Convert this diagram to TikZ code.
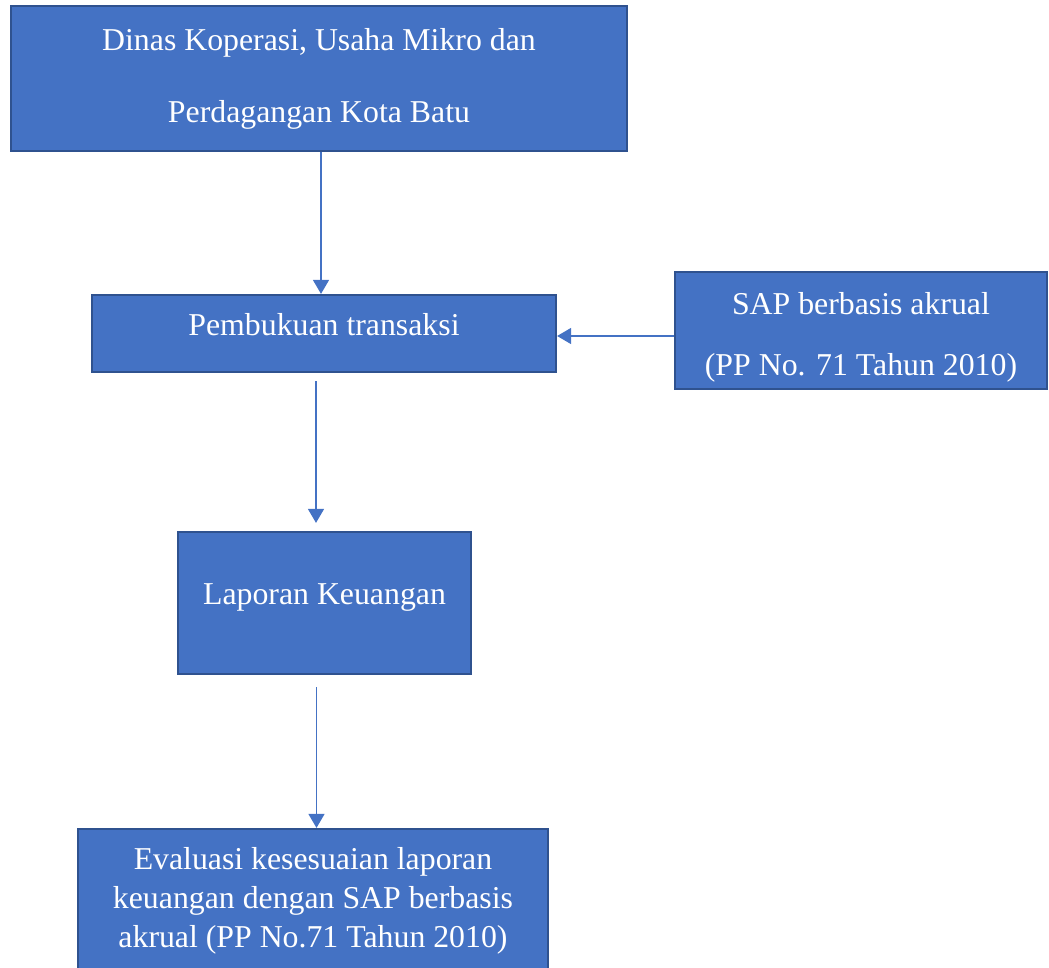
\documentclass[tikz,border=0pt]{standalone}
\usepackage{fontspec}
\setmainfont{Liberation Serif}
\usetikzlibrary{positioning,arrows.meta}
\definecolor{boxfill}{HTML}{4472C4}
\definecolor{boxline}{HTML}{2F528F}
\tikzset{
flowchart/.style={
    x=1pt,
    y=-1pt,
    >={Triangle[width=16pt,length=14pt]},
    line width=1.4pt
},
box/.style={
    rectangle,
    draw=boxline,
    line width=2.2pt,
    fill=boxfill,
    text=white,
    align=center,
    inner sep=0pt,
    font=\fontsize{31.8}{39}\selectfont
},
flow/.style={
    ->,
    draw=boxfill
}}

\begin{document}
\begin{tikzpicture}[flowchart]
\clip (0,0) rectangle (1049,968);
\node[box, minimum width=616pt, minimum height=145pt,
      font=\fontsize{31.8}{72}\selectfont]    (dinas)   at (319,78.5)   {Dinas Koperasi, Usaha Mikro dan\\Perdagangan Kota Batu};
\node[box, minimum width=464pt, minimum height=77pt,
      text depth=19pt]                         (buku)    at (324,333.5)  {Pembukuan transaksi};
\node[box, minimum width=372pt, minimum height=117pt,
      font=\fontsize{31.8}{61}\selectfont]    (sap)     at (861,330.5)  {\rule{0pt}{36pt}SAP berbasis akrual\\(PP No. 71 Tahun 2010)};
\node[box, minimum width=293pt, minimum height=142pt,
      text depth=17pt]                         (lapor)   at (324.5,603)  {Laporan Keuangan};
\node[box, minimum width=470pt, minimum height=144pt]    (eval)    at (313,901)    {Evaluasi kesesuaian laporan\\keuangan dengan SAP berbasis\\akrual (PP No.71 Tahun 2010)};

\path    ([xshift=2pt]dinas.south)    edge[flow]    ([xshift=2pt]dinas.south |- buku.north);
\path    ([yshift=-2.5pt]sap.west |- buku.east)    edge[flow]    ([yshift=-2.5pt]buku.east);
\path    ([xshift=-8pt]buku.south)    edge[flow, shorten <=8pt, shorten >=8pt]    ([xshift=-8pt]buku.south |- lapor.north);
\path    ([xshift=-8pt]lapor.south)   edge[flow, shorten <=12pt]    ([xshift=-8pt]lapor.south |- eval.north);
\end{tikzpicture}
\end{document}
